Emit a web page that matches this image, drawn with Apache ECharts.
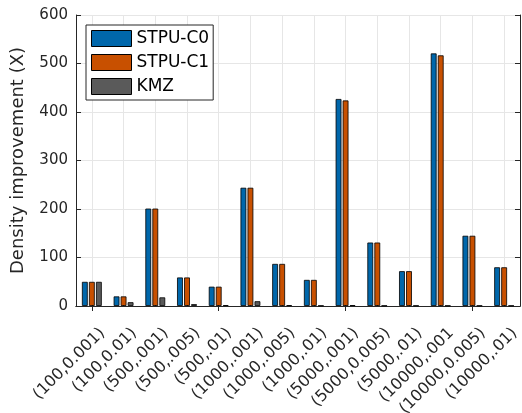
<!DOCTYPE html>
<html>
<head>
<meta charset="utf-8">
<script src="https://cdn.jsdelivr.net/npm/echarts@6/dist/echarts.min.js"></script>
<style>
html,body{margin:0;padding:0;background:#fff;}
#chart{width:522px;height:413px;}
</style>
</head>
<body>
<div id="chart"></div>
<script>
const categories = ['(100,0.001)','(100,0.01)','(500,.001)','(500,.005)','(500,.01)','(1000,.001)','(1000,.005)','(1000,.01)','(5000,.001)','(5000,0.005)','(5000,.01)','(10000,.001','(10000,0.005)','(10000,.01)'];
const stpuC0 = [50,20,201,59,40,244,87,54,427,131,72,521,145,80];
const stpuC1 = [50,20,201,59,40,244,87,54,424,131,72,517,145,80];
const kmz = [50,8,18,4,2,10,2,1,2,1,1,1,1,1];
const yTicks = {min:0, max:600, interval:100};

const FONT = 'DejaVu Sans';
const AX = '#262626';
const GRIDC = '#e6e6e6';

const chart = echarts.init(document.getElementById('chart'), null, {renderer:'canvas'});
const barCommon = {
  type:'bar', barWidth:6, barGap:'17%',
  xAxisIndex:0, yAxisIndex:0
};
chart.setOption({
  animation:false,
  backgroundColor:'#fff',
  textStyle:{fontFamily:FONT},
  grid:{left:76, right:2, top:15, bottom:107, containLabel:false, outerBoundsMode:'none'},
  legend:{
    orient:'vertical', left:86, top:25,
    backgroundColor:'#fff', borderColor:AX, borderWidth:1,
    padding:[5,4,5,5], itemGap:7, itemWidth:40, itemHeight:16,
    icon:'rect',
    itemStyle:{borderColor:'#000', borderWidth:1},
    textStyle:{fontFamily:FONT, fontSize:17, color:'#000'},
    data:['STPU-C0','STPU-C1','KMZ']
  },
  xAxis:[{
    type:'category', data:categories, position:'bottom', boundaryGap:true,
    axisLine:{lineStyle:{color:AX, width:1}},
    axisTick:{show:true, inside:true, length:5, alignWithLabel:true, lineStyle:{color:AX}},
    splitLine:{show:true, alignWithLabel:true, lineStyle:{color:GRIDC, width:1}},
    axisLabel:{rotate:45, interval:0, margin:14, verticalAlign:'top', padding:[7,0,0,0], fontFamily:FONT, fontSize:16, color:AX}
  },{
    type:'category', data:categories, position:'top', boundaryGap:true,
    axisLine:{lineStyle:{color:AX, width:1}},
    axisTick:{show:true, inside:true, length:5, alignWithLabel:true, lineStyle:{color:AX}},
    axisLabel:{show:false}, splitLine:{show:false}
  }],
  yAxis:[{
    type:'value', min:yTicks.min, max:yTicks.max, interval:yTicks.interval, position:'left',
    name:'Density improvement (X)', nameLocation:'middle', nameGap:49,
    nameTextStyle:{fontFamily:FONT, fontSize:18, color:AX},
    axisLine:{show:true, lineStyle:{color:AX, width:1}},
    axisTick:{show:true, inside:true, length:5, lineStyle:{color:AX}},
    splitLine:{show:true, lineStyle:{color:GRIDC, width:1}},
    axisLabel:{margin:8, fontFamily:FONT, fontSize:15, color:AX}
  },{
    type:'value', min:yTicks.min, max:yTicks.max, interval:yTicks.interval, position:'right',
    axisLine:{show:true, lineStyle:{color:AX, width:1}},
    axisTick:{show:true, inside:true, length:5, lineStyle:{color:AX}},
    splitLine:{show:false}, axisLabel:{show:false}
  }],
  series:[
    Object.assign({}, barCommon, {name:'STPU-C0', data:stpuC0, itemStyle:{color:'#0067AB', borderColor:'rgba(0,0,0,0.8)', borderWidth:1}}),
    Object.assign({}, barCommon, {name:'STPU-C1', data:stpuC1, itemStyle:{color:'#C85000', borderColor:'rgba(0,0,0,0.8)', borderWidth:1}}),
    Object.assign({}, barCommon, {name:'KMZ', data:kmz, itemStyle:{color:'#5A5A5A', borderColor:'rgba(0,0,0,0.8)', borderWidth:1}})
  ]
});
</script>
</body>
</html>
